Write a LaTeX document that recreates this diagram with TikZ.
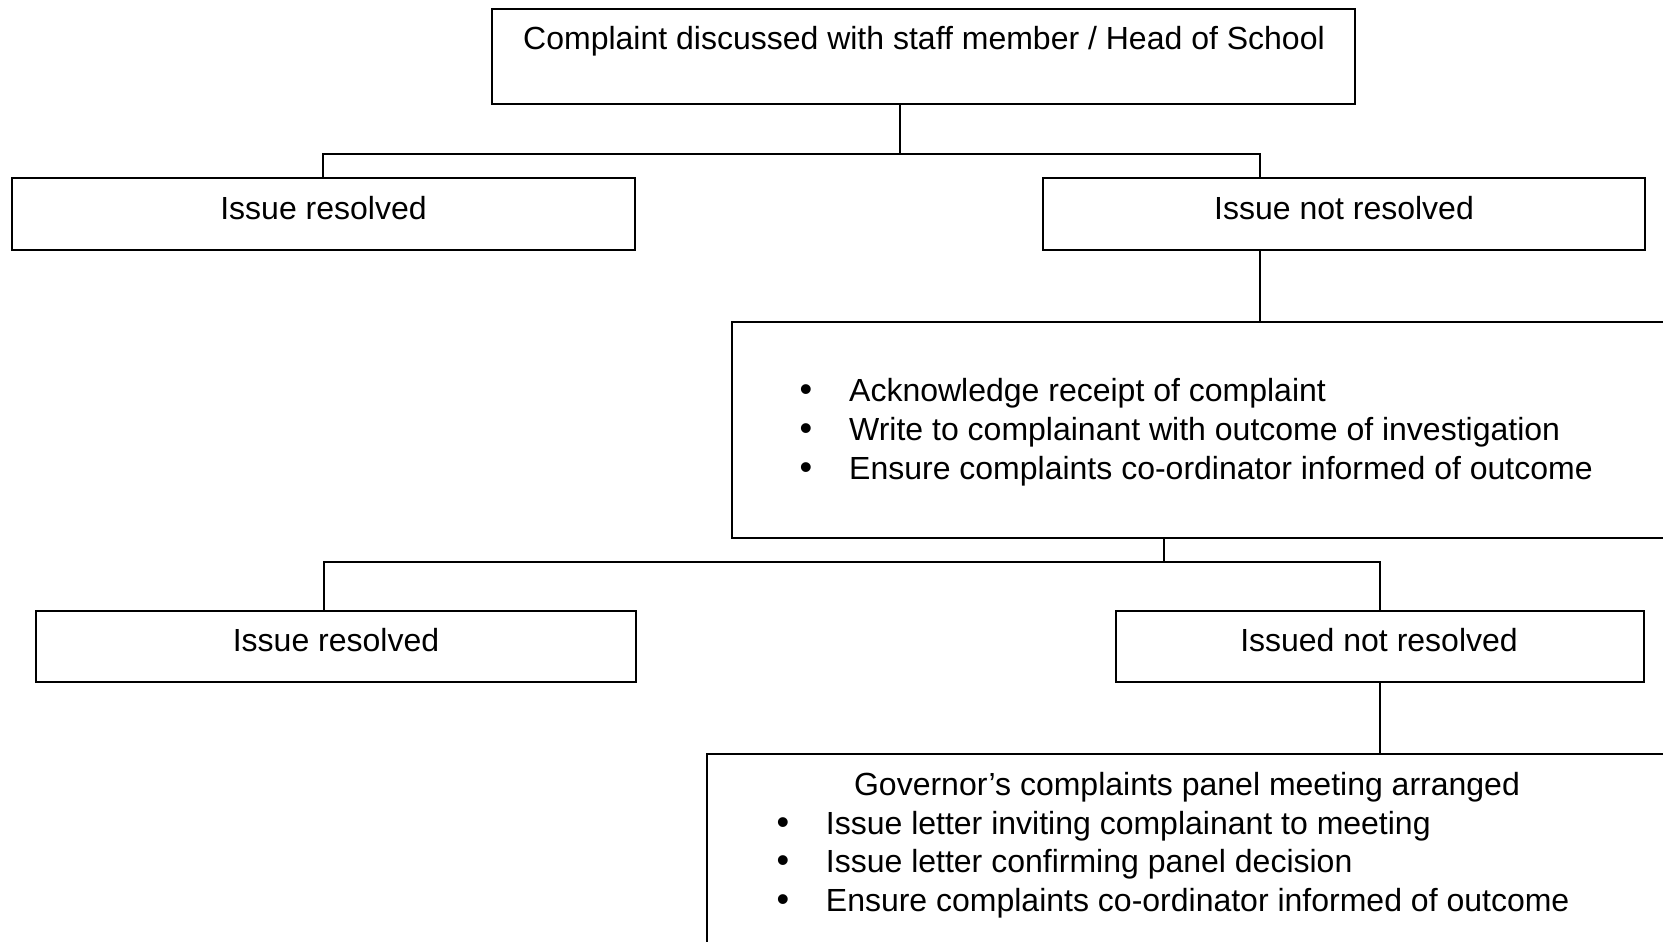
\documentclass[tikz,border=0pt]{standalone}
\usepackage{fontspec}
\setmainfont{Liberation Sans}
\begin{document}
\begin{tikzpicture}[x=1pt,y=-1pt,
  box/.style={draw=black,line width=2pt,anchor=north west,inner sep=0pt,outer sep=0pt},
  lbl/.style={anchor=base,inner sep=0pt,font=\fontsize{32}{38.7}\selectfont},
  blt/.style={anchor=base,inner sep=0pt,font=\fontsize{36}{38.7}\selectfont},
  lblw/.style={anchor=base west,inner sep=0pt,font=\fontsize{32}{38.7}\selectfont},
  conn/.style={draw=black,line width=2pt}]
\useasboundingbox (0,0) rectangle (1663,942);
\clip (0,0) rectangle (1663,942);
\fill[white] (0,0) rectangle (1663,942);
% boxes
\node[box,minimum width=863.3pt,minimum height=94.7pt] (top) at (491.7,9.3) {};
\node[box,minimum width=623.3pt,minimum height=71.7pt] (r1) at (11.7,178.3) {};
\node[box,minimum width=601.7pt,minimum height=71.7pt] (nr1) at (1043.3,178.3) {};
\node[box,minimum width=1000pt,minimum height=216.6pt] (b1) at (731.7,321.7) {};
\node[box,minimum width=600.3pt,minimum height=71.5pt] (r2) at (35.7,610.5) {};
\node[box,minimum width=527.5pt,minimum height=71.5pt] (nr2) at (1116,610.5) {};
\node[box,minimum width=1000pt,minimum height=300pt] (b2) at (707,754) {};
% texts
\node[lbl] (ttop) at (924,49.3) {Complaint discussed with staff member / Head of School};
\node[lbl] (tr1) at (323.5,219) {Issue resolved};
\node[lbl] (tnr1) at (1344,219) {Issue not resolved};
\node[blt] (ba1) at (806,401.5) {•};
\node[blt] (ba2) at (806,440.2) {•};
\node[blt] (ba3) at (806,479) {•};
\node[lblw] (ta1) at (849,401.5) {Acknowledge receipt of complaint};
\node[lblw] (ta2) at (849,440.2) {Write to complainant with outcome of investigation};
\node[lblw] (ta3) at (849,479) {Ensure complaints co-ordinator informed of outcome};
\node[lbl] (tr2) at (336,651) {Issue resolved};
\node[lbl] (tnr2) at (1379,651) {Issued not resolved};
\node[lbl] (tgov) at (1187,795.5) {Governor’s complaints panel meeting arranged};
\node[blt] (bb1) at (783,834.2) {•};
\node[blt] (bb2) at (783,872.9) {•};
\node[blt] (bb3) at (783,911.6) {•};
\node[lblw] (tb1) at (825.7,834.2) {Issue letter inviting complainant to meeting};
\node[lblw] (tb2) at (825.7,872.9) {Issue letter confirming panel decision};
\node[lblw] (tb3) at (825.7,911.6) {Ensure complaints co-ordinator informed of outcome};
% junction coordinates
\coordinate (j1) at (900,154);
\coordinate (d1) at (1260,154);
\coordinate (j2) at (1164,562.3);
\coordinate (d2) at (323.7,562.3);
\coordinate (d3) at (1380,562.3);
\coordinate (d4) at (1380,700);
% connectors
\draw[conn] (top.south -| j1) -- (j1);
\draw[conn] (r1.north) |- (d1) -- (nr1.north -| d1);
\draw[conn] (nr1.south -| d1) -- (b1.north -| d1);
\draw[conn] (b1.south -| j2) -- (j2);
\draw[conn] (r2.north -| d2) |- (d3) -- (nr2.north -| d3);
\draw[conn] (nr2.south -| d4) -- (b2.north -| d4);
\end{tikzpicture}
\end{document}
